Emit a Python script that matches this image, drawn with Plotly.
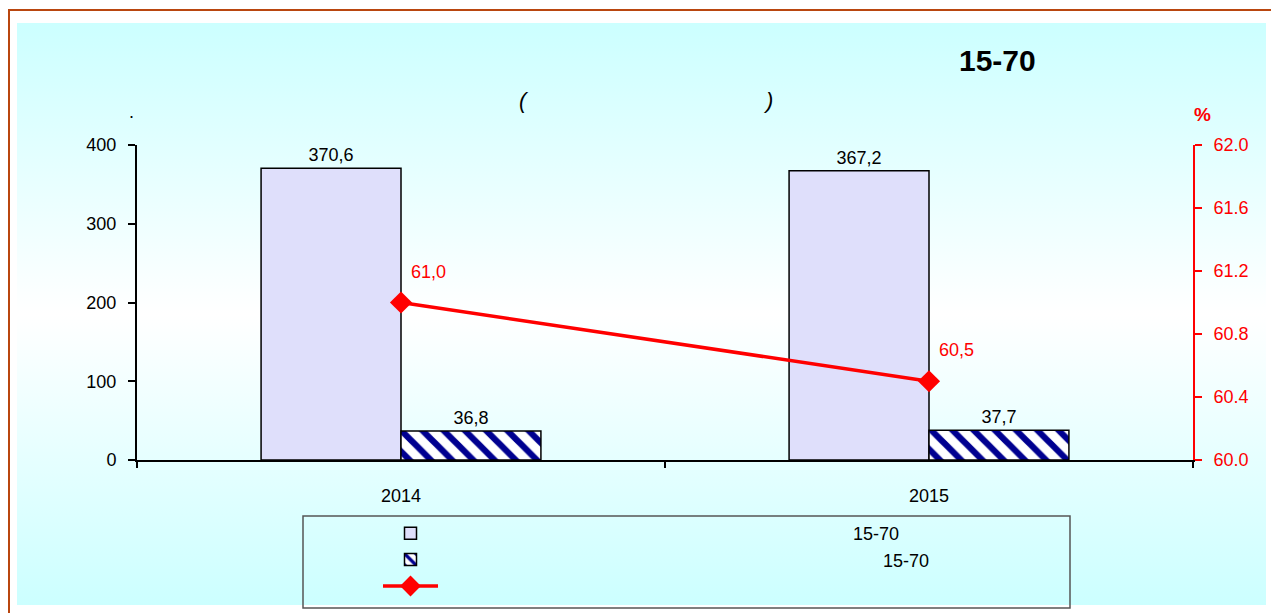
import base64
import plotly.graph_objects as go

years = ["2014", "2015"]
employed = [370.6, 367.2]
unemployed = [36.8, 37.7]
rate = [61.0, 60.5]
left_ticks = [0, 100, 200, 300, 400]
right_ticks = [60.0, 60.4, 60.8, 61.2, 61.6, 62.0]

def fmt(v):
    return f"{v:.1f}".replace(".", ",")

FONT = "Liberation Sans, Arial, sans-serif"
OFF = 8  # page body margin
W, H = 1279 - OFF, 613 - OFF
L, R, T, B = 137, 1193, 145, 460  # screen coordinates of plot area
PW, PH = R - L, B - T

def px(x):
    return (x - L) / PW

def py(y):
    return (B - y) / PH

NB = "\u00a0"

fig = go.Figure()
fig.add_trace(go.Bar(
    x=years, y=employed, name=NB * 82 + "15-70",
    marker=dict(color="#dfdffb", line=dict(color="black", width=1.5)),
    text=[fmt(v) for v in employed], textposition="outside",
    textfont=dict(family=FONT, size=18, color="black"), cliponaxis=False,
))
fig.add_trace(go.Bar(
    x=years, y=unemployed, name=NB * 88 + "15-70",
    marker=dict(color="white", line=dict(color="black", width=1.5),
                pattern=dict(shape="\\", fgcolor="#000090", bgcolor="white",
                             size=15, solidity=0.42, fgopacity=1)),
    text=[fmt(v) for v in unemployed], textposition="outside",
    textfont=dict(family=FONT, size=18, color="black"), cliponaxis=False,
))
fig.add_trace(go.Scatter(
    x=years, y=rate, name=NB, yaxis="y2", mode="lines+markers",
    line=dict(color="#ff0000", width=3.5),
    marker=dict(symbol="diamond", size=17, color="#ff0000"),
    cliponaxis=False,
))

svg = ('<svg xmlns="http://www.w3.org/2000/svg" width="100" height="100" preserveAspectRatio="none">'
       '<defs><linearGradient id="g" x1="0" y1="0" x2="0" y2="1">'
       '<stop offset="0" stop-color="#ccffff"/><stop offset="0.5" stop-color="#ffffff"/>'
       '<stop offset="1" stop-color="#ccffff"/></linearGradient></defs>'
       '<rect width="100" height="100" fill="url(#g)"/></svg>')
src = "data:image/svg+xml;base64," + base64.b64encode(svg.encode()).decode()

axis_font = dict(family=FONT, size=18, color="black")

annotations = [
    dict(text="<b>15-70</b>", x=px(997), y=py(60), xref="paper", yref="paper",
         xanchor="center", yanchor="middle",
         showarrow=False, font=dict(family=FONT, size=30, color="black")),
    dict(text="<i>(</i>", x=px(524), y=py(100), xref="paper", yref="paper",
         xanchor="center", yanchor="middle",
         showarrow=False, font=dict(family=FONT, size=22, color="black")),
    dict(text="<i>)</i>", x=px(768), y=py(100), xref="paper", yref="paper",
         xanchor="center", yanchor="middle",
         showarrow=False, font=dict(family=FONT, size=22, color="black")),
    dict(text=".", x=px(131), y=py(112), xref="paper", yref="paper",
         xanchor="center", yanchor="middle",
         showarrow=False, font=dict(family=FONT, size=18, color="black")),
    dict(text="<b>%</b>", x=px(1202), y=py(115), xref="paper", yref="paper",
         xanchor="center", yanchor="middle",
         showarrow=False, font=dict(family=FONT, size=19, color="#ff0000")),
]
for i, v in enumerate(rate):
    annotations.append(dict(text=fmt(v), x=i, y=v, xref="x", yref="y2",
                            xanchor="left", yanchor="middle", xshift=8, yshift=31,
                            showarrow=False,
                            font=dict(family=FONT, size=18, color="#ff0000")))

fig.update_layout(
    width=W, height=H,
    margin=dict(l=L - OFF, r=W - (R - OFF), t=T - OFF, b=H - (B - OFF), pad=0,
                autoexpand=False),
    paper_bgcolor="white", plot_bgcolor="rgba(0,0,0,0)",
    barmode="group", bargap=0.47, bargroupgap=0,
    font=dict(family=FONT, size=18, color="black"),
    showlegend=True,
    legend=dict(x=px(378), y=py(515), xanchor="left", yanchor="top",
                bgcolor="rgba(0,0,0,0)", borderwidth=0,
                font=dict(family=FONT, size=18, color="black"),
                itemwidth=55, traceorder="normal"),
    xaxis=dict(type="category", range=[-0.5, len(years) - 0.5], autorange=False,
               showline=True, linecolor="black", linewidth=1.5,
               ticks="outside", ticklen=6, tickcolor="black", tickwidth=1.5,
               tickson="boundaries", tickfont=axis_font, ticklabelstandoff=19,
               tickangle=0, showgrid=False, zeroline=False),
    yaxis=dict(range=[0, 400], tickvals=left_ticks, showline=True, linecolor="black",
               linewidth=2, ticks="outside", ticklen=7, tickcolor="black", tickwidth=2,
               tickfont=axis_font, showgrid=False, zeroline=False, ticklabelstandoff=8),
    yaxis2=dict(range=[60, 62], tickvals=right_ticks, tickformat=".1f", overlaying="y",
                side="right", showline=True, linecolor="#ff0000", linewidth=2,
                ticks="outside", ticklen=7, tickcolor="#ff0000", tickwidth=2,
                tickfont=dict(family=FONT, size=18, color="#ff0000"),
                showgrid=False, zeroline=False, ticklabelstandoff=8, anchor="x"),
    images=[dict(source=src, xref="paper", yref="paper", x=px(17), y=py(23),
                 sizex=(1266 - 17) / PW, sizey=(605 - 23) / PH, sizing="stretch",
                 xanchor="left", yanchor="top", layer="below")],
    shapes=[
        dict(type="line", xref="paper", yref="paper", x0=px(8), x1=px(1290),
             y0=py(10), y1=py(10), line=dict(color="#b9460f", width=2)),
        dict(type="line", xref="paper", yref="paper", x0=px(9), x1=px(9),
             y0=py(10), y1=py(620), line=dict(color="#b9460f", width=2)),
        dict(type="rect", xref="paper", yref="paper", x0=px(303), x1=px(1070),
             y0=py(608), y1=py(516), line=dict(color="#555555", width=1.5),
             fillcolor="rgba(0,0,0,0)"),
    ],
    annotations=annotations,
)

fig.write_html("out.html")
